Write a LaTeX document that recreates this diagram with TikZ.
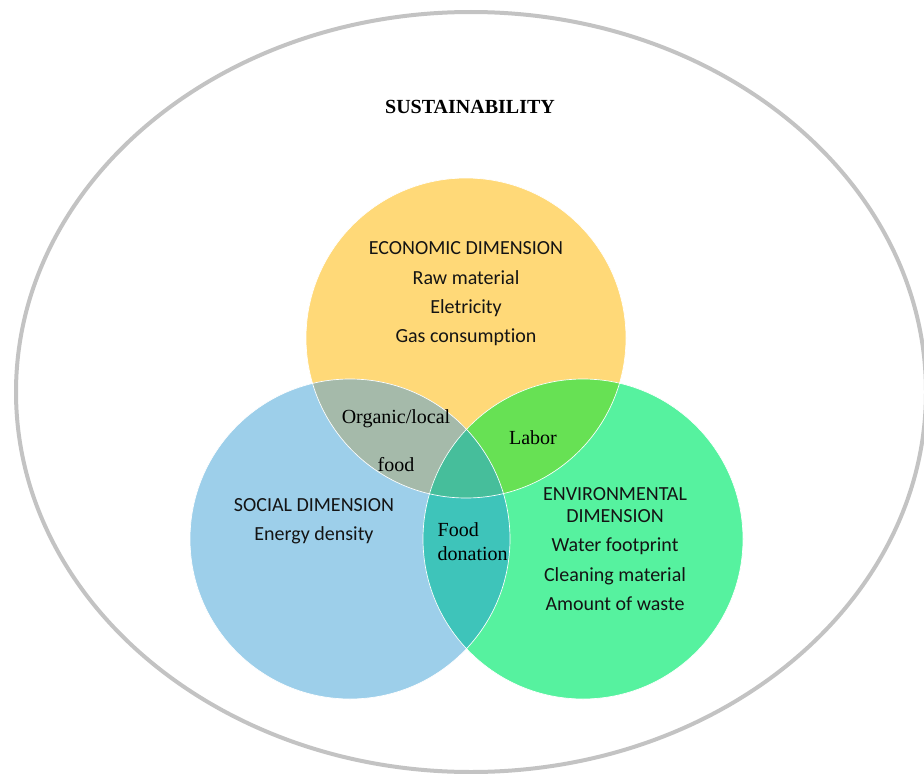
\documentclass[tikz,border=0pt]{standalone}
\usepackage{fontspec}
\setmainfont{Liberation Serif}
\newfontfamily\calibrifont[Ligatures=NoCommon]{Carlito}
\usepackage{tikz}
\usetikzlibrary{positioning}
\definecolor{econyellow}{RGB}{255,217,120}
\definecolor{socialblue}{RGB}{157,207,234}
\definecolor{envgreen}{RGB}{86,242,159}
\definecolor{ecosocial}{RGB}{165,186,170}
\definecolor{ecoenv}{RGB}{103,225,84}
\definecolor{socenv}{RGB}{62,196,186}
\definecolor{allthree}{RGB}{70,190,155}
\definecolor{outergray}{RGB}{195,195,195}

\tikzset{
  dimtext/.style={font=\calibrifont\fontsize{15}{22}\selectfont, align=center, text=black!92},
  overlaptext/.style={font=\fontsize{15}{18}\selectfont, text=black}
}

\begin{document}
\begin{tikzpicture}[x=0.75pt, y=-0.75pt]
  \useasboundingbox (0,0) rectangle (924,774);

  % Outer ellipse
  \draw[outergray, line width=3pt] (471,392) ellipse (455 and 380);
  \node[font=\bfseries\fontsize{15}{18}\selectfont] (title) at (470,107) {SUSTAINABILITY};

  % Circle centres
  \coordinate (eco) at (466,338);
  \coordinate (soc) at (350,539);
  \coordinate (env) at (583,539);

  % Circles
  \fill[econyellow] (eco) circle (160);
  \fill[socialblue] (soc) circle (160);
  \fill[envgreen] (env) circle (160);

  % Overlaps
  \begin{scope}
    \clip (eco) circle (160);
    \fill[ecosocial] (soc) circle (160);
    \fill[ecoenv] (env) circle (160);
    \clip (soc) circle (160);
    \fill[allthree] (env) circle (160);
  \end{scope}
  \begin{scope}
    \clip (soc) circle (160);
    \clip (env) circle (160);
    \fill[socenv] (env) circle (160);
    \clip (eco) circle (160);
    \fill[allthree] (eco) circle (160);
  \end{scope}

  % Thin white edges
  \draw[white, line width=0.5pt] (eco) circle (160);
  \draw[white, line width=0.5pt] (soc) circle (160);
  \draw[white, line width=0.5pt] (env) circle (160);

  % Dimension texts
  \node[dimtext] (economic) at (466,294) {ECONOMIC DIMENSION\\Raw material\\Eletricity\\Gas consumption};
  \node[dimtext] (social) at (314,521) {SOCIAL DIMENSION\\Energy density};
  \node[dimtext] (environmental) at (615,549) {ENVIRONMENTAL\\[-5.5pt]DIMENSION\\Water footprint\\Cleaning material\\Amount of waste};

  % Overlap texts
  \node[overlaptext, align=center] (organic) at (396,441) {Organic/local\\[18pt]food};
  \node[overlaptext] (labor) at (533,438) {Labor};
  \node[overlaptext, align=left, anchor=west] (donation) at (433,542) {Food\\donation};
\end{tikzpicture}
\end{document}
